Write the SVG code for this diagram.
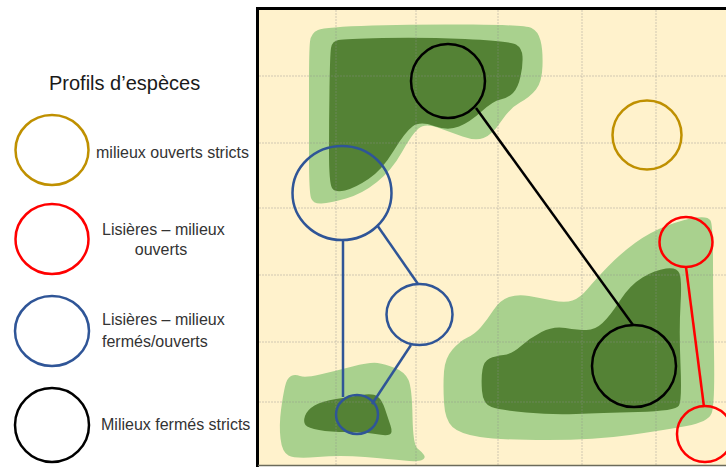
<svg xmlns="http://www.w3.org/2000/svg" width="726" height="467" viewBox="0 0 726 467">
<style>
.t{font-family:"Liberation Sans",Arial,sans-serif;font-size:16px;fill:#333}
.ti{font-family:"Liberation Sans",Arial,sans-serif;font-size:20px;fill:#1a1a1a}
.lg{fill:#A9D18E}
.dg{fill:#548235}
.grid{stroke:#8c8c8c;stroke-opacity:0.4;stroke-width:1;stroke-dasharray:2 1;fill:none}
.c{fill:none;stroke-width:2.5}
.gold{stroke:#BF9000}
.red{stroke:#FF0000}
.blue{stroke:#2F5597}
.blk{stroke:#000}
</style>
<rect width="726" height="467" fill="#fff"/>
<g id="map">
<rect x="258" y="9" width="468" height="456" fill="#FFF2CC"/>
<path class="lg" d="M309,85 Q309,50 310,41.5 Q311,33 318,30 Q325,27 372.5,25.5 Q420,24 472.5,24.5 Q525,25 531.5,28 Q538,31 540.5,40.5 Q543,50 542.5,66 Q542,82 536,89.5 Q530,97 520,102.5 Q510,108 501,121.5 Q492,135 483.5,138 Q475,141 462.5,136.5 Q450,132 437.5,127.5 Q425,123 418.5,128.5 Q412,134 402,152 Q392,170 377,182 Q362,194 346,198.5 Q330,203 321.5,203.5 Q313,204 311,198 Q309,192 309,156 Q309,120 309,85 Z"/>
<path class="dg" d="M329.5,87.5 Q330,55 331,48 Q332,41 338.5,40 Q345,39 382.5,38 Q420,37 465,39 Q510,41 516,44.5 Q522,48 522.5,56.5 Q523,65 520.5,76.5 Q518,88 513,93 Q508,98 500.5,99.5 Q493,101 481.5,111.5 Q470,122 459,126.5 Q448,131 434,126 Q420,121 412.5,126.5 Q405,132 393.5,151 Q382,170 368.5,179 Q355,188 345,190.5 Q335,193 332,188 Q329,183 329,151.5 Q329,120 329.5,87.5 Z"/>
<path class="lg" d="M281,410 Q283,395 285,386.5 Q287,378 291,376 Q295,374 300,376 Q305,378 320,374.5 Q335,371 352.5,366.5 Q370,362 377.5,363 Q385,364 395,368 Q405,372 408.5,380 Q412,388 412.5,416.5 Q413,445 417.5,448.5 Q422,452 424,455 Q426,458 422,460 Q418,462 404,460.5 Q390,459 365,457 Q340,455 317.5,457 Q295,459 288.5,455.5 Q282,452 280.5,438.5 Q279,425 281,410 Z"/>
<path class="dg" d="M305.5,425 Q303,422 305,416 Q307,410 314.5,405.5 Q322,401 336,399 Q350,397 361.5,395 Q373,393 377.5,396.5 Q382,400 385,409 Q388,418 390.5,425.5 Q393,433 389.5,434.5 Q386,436 375.5,434 Q365,432 347.5,432 Q330,432 319,430 Q308,428 305.5,425 Z"/>
<path class="lg" d="M444,402.5 Q443,385 444,371.5 Q445,358 452.5,349.5 Q460,341 467.5,337.5 Q475,334 481,327 Q487,320 493.5,310 Q500,300 509,297 Q518,294 529,296 Q540,298 552.5,300.5 Q565,303 572.5,300.5 Q580,298 587.5,289 Q595,280 607.5,267 Q620,254 635,243 Q650,232 667.5,225.5 Q685,219 696.5,217.5 Q708,216 710.5,220.5 Q713,225 713,262.5 Q713,300 714,352.5 Q715,405 711.5,413.5 Q708,422 686.5,426 Q665,430 630,435 Q595,440 547.5,440 Q500,440 480,437 Q460,434 452.5,427 Q445,420 444,402.5 Z"/>
<path class="dg" d="M482,391 Q481,378 482.5,369.5 Q484,361 489.5,358.5 Q495,356 503.5,355 Q512,354 521,346 Q530,338 541.5,332 Q553,326 565.5,328 Q578,330 586.5,330 Q595,330 602.5,323 Q610,316 620,300.5 Q630,285 642.5,277.5 Q655,270 666,268.5 Q677,267 679.5,273.5 Q682,280 680.5,305 Q679,330 680.5,365 Q682,400 679,405.5 Q676,411 638,412 Q600,413 576,414 Q552,415 526,412.5 Q500,410 491.5,407 Q483,404 482,391 Z"/>
<g class="grid">
<path d="M336,10V465M416,10V465M498,10V465M582,10V465M656,10V465"/>
<path d="M259,76H726M259,143H726M259,208H726M259,275H726M259,342H726M259,402H726"/>
</g>
<path d="M256,8.5H726" stroke="#000" stroke-width="3"/>
<path d="M257.5,7V467" stroke="#000" stroke-width="3"/>
<path d="M258,465.5H726" stroke="#6b6b5a" stroke-width="1.5"/>
</g>
<g id="connectors" fill="none" stroke-width="2.5">
<line x1="476" y1="108" x2="633" y2="325" stroke="#000"/>
<line x1="686" y1="267" x2="704" y2="407" stroke="#FF0000"/>
<line x1="343" y1="240" x2="343" y2="397" stroke="#2F5597"/>
<line x1="377" y1="225" x2="418" y2="284" stroke="#2F5597"/>
<line x1="411" y1="345" x2="372" y2="404" stroke="#2F5597"/>
</g>
<g id="n-black-top"><circle class="c blk" cx="448" cy="81" r="37"/></g>
<g id="n-black-bottom"><ellipse class="c blk" cx="634" cy="366" rx="42" ry="41"/></g>
<g id="n-gold"><circle class="c gold" cx="647" cy="135" r="34.5"/></g>
<g id="n-red-top"><ellipse class="c red" cx="686" cy="242" rx="26.5" ry="25"/></g>
<g id="n-red-bottom"><circle class="c red" cx="705" cy="434" r="28"/></g>
<g id="n-blue-large"><ellipse class="c blue" cx="342" cy="193" rx="49.5" ry="47"/></g>
<g id="n-blue-mid"><ellipse class="c blue" cx="419.5" cy="314.5" rx="33" ry="30.5"/></g>
<g id="n-blue-small"><ellipse class="c blue" cx="357" cy="414.5" rx="21" ry="19.5"/></g>
<g id="legend">
<text class="ti" x="49" y="90">Profils d’espèces</text>
<g id="leg-gold"><ellipse class="c gold" cx="52" cy="150" rx="36.5" ry="35"/><text class="t" x="96" y="158">milieux ouverts stricts</text></g>
<g id="leg-red"><ellipse class="c red" cx="52" cy="239" rx="36.5" ry="35"/><text class="t" x="102" y="235">Lisières – milieux</text><text class="t" x="161" y="255" text-anchor="middle">ouverts</text></g>
<g id="leg-blue"><ellipse class="c blue" cx="52" cy="331" rx="37" ry="35"/><text class="t" x="102" y="325">Lisières – milieux</text><text class="t" x="102" y="347">fermés/ouverts</text></g>
<g id="leg-black"><ellipse class="c blk" cx="52" cy="425" rx="37" ry="37"/><text class="t" x="101" y="430">Milieux fermés stricts</text></g>
</g>
</svg>
